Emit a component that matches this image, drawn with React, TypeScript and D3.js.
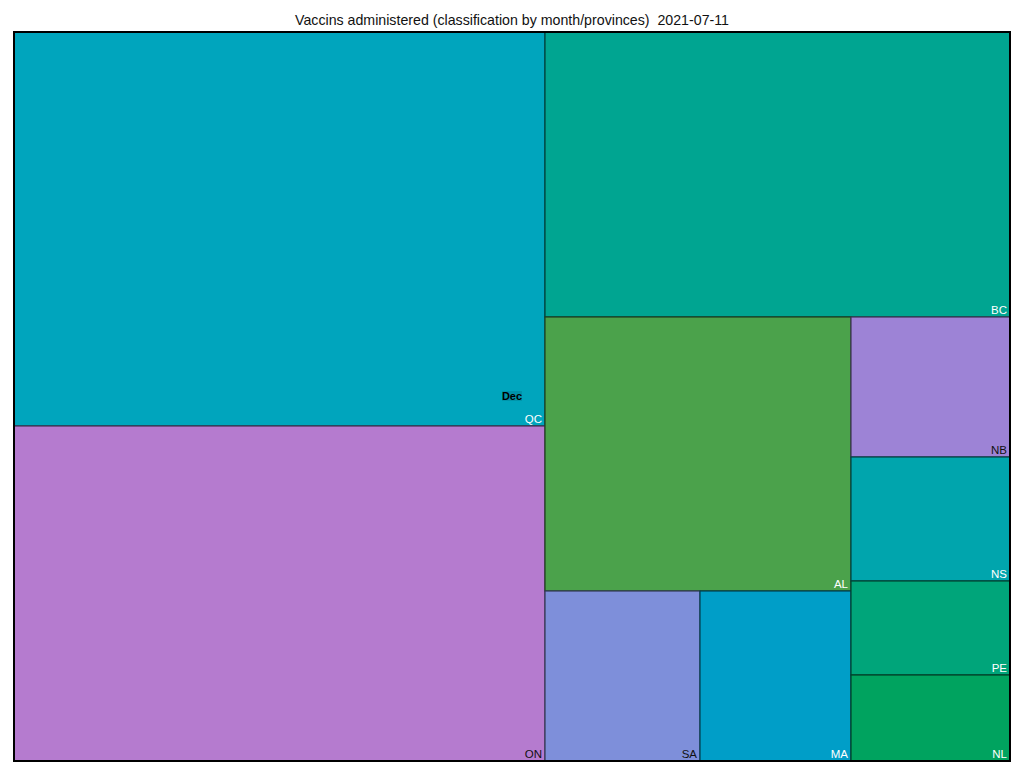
import React from "react";
import * as d3 from "d3";

const title = "Vaccins administered (classification by month/provinces)  2021-07-11";
const provinces = ["QC", "ON", "BC", "AL", "SA", "MA", "NB", "NS", "PE", "NL"];
const doses = [209214, 177885, 132525, 83844, 26350, 25670, 22260, 19716, 14946, 13674];
const fills = ["#00a5bd", "#b57bcf", "#00a591", "#4ba24b", "#7e8fda", "#009ec8", "#9d83d6", "#00a5ad", "#00a57a", "#00a35f"];
const labelFills = ["#ffffff", "#111111", "#ffffff", "#ffffff", "#111111", "#ffffff", "#111111", "#ffffff", "#ffffff", "#ffffff"];
// nesting of province indices used by the tiling
const groups: any = [[0, 1], [2, [[3, [4, 5]], [6, 7, 8, 9]]]];
const monthLabel = "Dec";

const W = 1024, H = 768;
const X0 = 14, Y0 = 32, X1 = 1010, Y1 = 761;

function build(g: any): any {
  if (typeof g === "number") return { name: provinces[g], value: doses[g], idx: g };
  return { children: g.map(build) };
}

export default function App() {
  const root = d3.hierarchy(build(groups)).sum((d: any) => d.value ?? 0);
  const tile = (node: any, x0: number, y0: number, x1: number, y1: number) =>
    (x1 - x0 > y1 - y0 ? d3.treemapDice : d3.treemapSlice)(node, x0, y0, x1, y1);
  d3.treemap().size([X1 - X0, Y1 - Y0]).tile(tile as any)(root as any);
  const leaves: any[] = root.leaves();
  const qc = leaves.find((l) => l.data.idx === 0);
  return (
    <svg width={W} height={H} style={{ position: "absolute", left: 0, top: 0 }} fontFamily="Liberation Sans, Arial, sans-serif">
      <rect x={0} y={0} width={W} height={H} fill="#fff" />
      <text x={512} y={25} textAnchor="middle" fontSize={14.2} fill="#111" style={{ whiteSpace: "pre" }}>{title}</text>
      <g transform={`translate(${X0},${Y0})`}>
        {leaves.map((l) => {
          const c = fills[l.data.idx];
          return (
            <g key={l.data.name}>
              <rect x={l.x0} y={l.y0} width={l.x1 - l.x0} height={l.y1 - l.y0} fill={c}
                stroke={d3.color(c)!.darker(2.6).formatHex()} strokeWidth={1.2} />
              <text x={l.x1 - 3} y={l.y1 - 3} textAnchor="end" fontSize={11.5} fill={labelFills[l.data.idx]}>{l.data.name}</text>
            </g>
          );
        })}
        {qc && (
          <g>
            <rect x={qc.x1 - 43} y={qc.y1 - 35} width={20} height={10} fill="#0094aa" />
            <text x={qc.x1 - 33} y={qc.y1 - 26} textAnchor="middle" fontSize={11} fontWeight="bold" fill="#000">{monthLabel}</text>
          </g>
        )}
        <rect x={0} y={0} width={X1 - X0} height={Y1 - Y0} fill="none" stroke="#000" strokeWidth={2} />
      </g>
    </svg>
  );
}
